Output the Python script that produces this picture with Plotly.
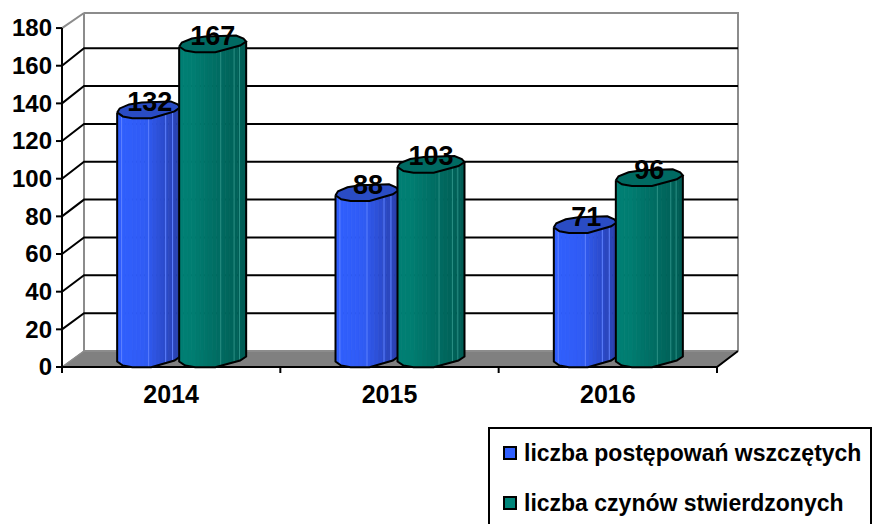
import numpy as np
import plotly.graph_objects as go

categories = ["2014", "2015", "2016"]
postepowania = [132, 88, 71]
czyny = [167, 103, 96]
series_names = ["liczba postępowań wszczętych", "liczba czynów stwierdzonych"]
series_colors = ["#3060ff", "#00857a"]
y_ticks = list(range(0, 181, 20))

W, H = 872, 524
# plot area in page pixels (slightly larger than the 3D box so lines are not clipped)
L, R, T, B = 55, 741, 10, 376
X0, Y0 = 62, 367            # page position of x=0, y=0 on the front plane
CAT_PX = 218.33
K = 1.883
X_WALL = (738 - X0) / CAT_PX
Y_WALL = (Y0 - 13) / K
DX = 22 / CAT_PX            # depth of the 3D floor, x units
DY = 16 / K                 # depth of the 3D floor, y units
C = 8 / K                   # centre of a cylinder cap above the front plane
FONT = "Liberation Sans"

TOP_U = np.array([0, .04, .19, .39, .85, .96, 1])
TOP_D = np.array([2, -2, -6, -8, -9, -6, -3])
BOT_U = np.array([0, .09, .24, .54, .69, .91, 1])
BOT_D = np.array([2, 6, 7.7, 7.7, 5, 1, -3])

fig = go.Figure()


def line(xs, ys, color, width, fill=None, fillcolor=None):
    fig.add_trace(go.Scatter(
        x=xs, y=ys, mode="lines", line=dict(color=color, width=width, simplify=False),
        fill=fill, fillcolor=fillcolor, showlegend=False, hoverinfo="skip"))


n = len(categories)
# floor
line([0, DX, X_WALL, n, 0], [0, DY, DY, 0, 0], "#808080", 1, "toself", "#808080")
# walls
line([0, DX, DX], [180, Y_WALL, DY], "#8c8c8c", 2)
line([DX, X_WALL, X_WALL], [Y_WALL, Y_WALL, DY], "#8c8c8c", 2)
line([DX, X_WALL], [DY, DY], "#8c8c8c", 2)
line([0, DX], [0, DY], "#8c8c8c", 1.5)
# grid
for v in y_ticks[1:-1]:
    by = v * 1.005 + DY
    line([0, DX, X_WALL], [v, by, by], "#000000", 2)
# front axes and tick marks
line([0, 0], [0, 180], "#000000", 2)
line([0, n, X_WALL], [0, 0, DY], "#000000", 2)
for i in range(n + 1):
    line([i, i], [0, -6 / K], "#000000", 2)
for v in y_ticks:
    line([0, -6 / CAT_PX], [v, v], "#000000", 2)


def cylinders(values, offset, width_px, stops_u, stops_rgb, top_col, streaks, streak_col):
    w = width_px / CAT_PX
    edges = np.linspace(0, 1, 17)
    for a, b in zip(edges[:-1], edges[1:]):
        xs, ys = [], []
        uu = np.linspace(a, b, 4)
        prof = np.interp(uu, BOT_U, BOT_D)
        for i, v in enumerate(values):
            x0 = i + .5 + offset - w / 2
            top = v + C - prof / K
            bot = C - (prof + .5) / K
            xs += list(x0 + uu * w) + list(x0 + uu[::-1] * w) + [x0 + a * w, None]
            ys += list(top) + list(bot[::-1]) + [top[0], None]
        mid = (a + b) / 2
        rgb = [np.interp(mid, stops_u, [c[j] for c in stops_rgb]) for j in range(3)]
        col = "rgb(%d,%d,%d)" % tuple(rgb)
        fig.add_trace(go.Scatter(x=xs, y=ys, mode="lines", line=dict(color=col, width=.8),
                                 fill="toself", fillcolor=col, showlegend=False,
                                 hoverinfo="skip"))
    for i, v in enumerate(values):
        x0 = i + .5 + offset - w / 2
        for s in streaks:
            p = np.interp(s, BOT_U, BOT_D)
            line([x0 + s * w] * 2, [v + C - p / K, C - (p + .5) / K], streak_col, 1)
        low = C - (BOT_D + .5) / K
        line([x0] + list(x0 + BOT_U * w) + [x0 + w],
             [v + C - BOT_D[0] / K] + list(low) + [v + C - BOT_D[-1] / K],
             "#000000", 2)
        cx = list(x0 + TOP_U * w) + list(x0 + BOT_U[::-1] * w)
        cy = list(v + C - TOP_D / K) + list(v + C - BOT_D[::-1] / K)
        line(cx, cy, "#000000", 2, "toself", top_col)


cylinders(postepowania, -22.5 / CAT_PX, 63,
          [0, .45, .75, 1], [(48, 96, 255), (48, 92, 245), (44, 76, 205), (42, 64, 170)],
          "#2a4cc4", [.07, .5, .77, .88], "#5f82ff")
cylinders(czyny, 41.5 / CAT_PX, 67,
          [0, .2, .6, 1], [(0, 128, 116), (0, 126, 114), (0, 108, 98), (0, 92, 84)],
          "#006a62", [.62, .82, .9], "#2a9085")

# value labels
lab_x, lab_y, lab_t = [], [], []
for i in range(n):
    for vals, off in ((postepowania, -21.5 / CAT_PX), (czyny, 41.5 / CAT_PX)):
        lab_x.append(i + .5 + off)
        lab_y.append(vals[i] + 7.6)
        lab_t.append(str(vals[i]))
fig.add_trace(go.Scatter(x=lab_x, y=lab_y, text=lab_t, mode="text", textposition="middle center",
                         textfont=dict(family=FONT, size=27, color="#000000", weight=700),
                         showlegend=False, hoverinfo="skip", cliponaxis=False))


# legend, drawn in page pixels
def px(x):
    return (x - L) / (R - L)


def py(y):
    return (B - y) / (B - T)


shapes = [dict(type="rect", xref="paper", yref="paper", x0=px(489), x1=px(871), y0=py(428), y1=py(540),
               line=dict(color="#000000", width=2), fillcolor="#ffffff", layer="above")]
annots = []
for name, col, ly in zip(series_names, series_colors, [453, 503]):
    shapes.append(dict(type="rect", xref="paper", yref="paper", x0=px(504), x1=px(516), y0=py(ly - 6), y1=py(ly + 6),
                       line=dict(color="#000000", width=2), fillcolor=col, layer="above"))
    annots.append(dict(text=name, xref="paper", yref="paper", x=px(523), y=py(ly), xanchor="left", yanchor="middle",
                       showarrow=False, xshift=-1, font=dict(family=FONT, size=23, color="#000000", weight=700)))

fig.update_layout(
    width=W, height=H, paper_bgcolor="#ffffff", plot_bgcolor="#ffffff",
    margin=dict(l=L, r=W - R, t=T, b=H - B, pad=0, autoexpand=False),
    showlegend=False, shapes=shapes, annotations=annots,
    xaxis=dict(range=[-(X0 - L) / CAT_PX, (R - X0) / CAT_PX], tickmode="array", tickvals=[.5, 1.5, 2.5],
               ticktext=categories, showgrid=False, zeroline=False, showline=False, ticks="", ticklabelstandoff=1,
               tickfont=dict(family=FONT, size=25, color="#000000", weight=700)),
    yaxis=dict(range=[-(B - Y0) / K, (Y0 - T) / K], tickmode="array", tickvals=y_ticks,
               ticktext=[str(v) for v in y_ticks], showgrid=False, zeroline=False, showline=False,
               ticks="", ticklabelstandoff=2,
               tickfont=dict(family=FONT, size=24, color="#000000", weight=700)),
)

fig.write_html("out.html", config=dict(displayModeBar=False),
               post_script="document.body.style.margin='0';document.body.style.overflow='hidden';")
